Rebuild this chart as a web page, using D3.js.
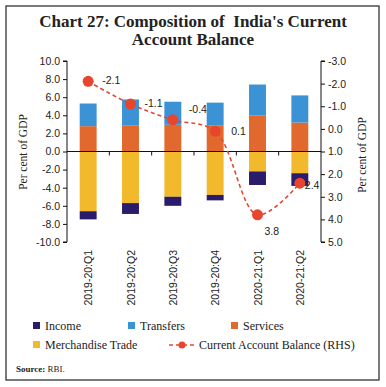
<!DOCTYPE html>
<html>
<head>
<meta charset="utf-8">
<title>Chart 27</title>
<script src="https://d3js.org/d3.v7.min.js"></script>
<style>
  body { margin: 0; background: #fff; }
</style>
</head>
<body>
<div id="chart"></div>
<script>
// data (per cent of GDP)
const quarters = ["2019-20:Q1", "2019-20:Q2", "2019-20:Q3", "2019-20:Q4", "2020-21:Q1", "2020-21:Q2"];
const services = [2.8, 2.9, 2.95, 2.9, 4.0, 3.2];
const transfers = [2.5, 2.85, 2.55, 2.5, 3.4, 3.0];
const merchandise = [-6.6, -5.7, -5.0, -4.8, -2.2, -2.4];
const income = [-0.9, -1.2, -1.0, -0.6, -1.5, -1.4];
const cab = [-2.1, -1.1, -0.4, 0.1, 3.8, 2.4];
const leftTicks = [10, 8, 6, 4, 2, 0, -2, -4, -6, -8, -10];
const rightTicks = [-3, -2, -1, 0, 1, 2, 3, 4, 5];

const W = 386, H = 387;
const colors = {income: "#2b1b6b", transfers: "#3b93d6", services: "#e1692d", merch: "#f2b92d", cab: "#e8452f"};
// hyphen instead of the unicode minus that d3.format gives
const fmt = d => d3.format(".1f")(d).replace("\u2212", "-");

const svg = d3.select("#chart").append("svg")
    .attr("width", W).attr("height", H);

svg.append("rect")
    .attr("x", 6).attr("y", 6).attr("width", 373).attr("height", 374)
    .attr("fill", "none").attr("stroke", "#333").attr("stroke-width", 1.3);

// title
const title = svg.append("text")
    .attr("text-anchor", "middle")
    .attr("font-family", "Liberation Serif, serif")
    .attr("font-weight", "bold")
    .attr("font-size", "17px")
    .attr("fill", "#222")
    .style("white-space", "pre");
title.append("tspan").attr("x", 193).attr("y", 27).text("Chart 27: Composition of  India's Current");
title.append("tspan").attr("x", 193).attr("y", 45).text("Account Balance");

const pL = 67, pR = 321, pT = 61, pB = 242;

const x = d3.scaleBand().domain(quarters).range([pL, pR]).paddingInner(0.6).paddingOuter(0.3);
const y = d3.scaleLinear().domain([-10, 10]).range([pB, pT]);
const y2 = d3.scaleLinear().domain([5, -3]).range([pB, pT]);

// stacked bars
const g = svg.append("g");
function addBars(base, vals, color) {
  g.selectAll(null).data(quarters).enter().append("rect")
      .attr("x", d => x(d))
      .attr("width", x.bandwidth())
      .attr("y", (d, i) => y(Math.max(base[i], base[i] + vals[i])))
      .attr("height", (d, i) => Math.abs(y(base[i]) - y(base[i] + vals[i])))
      .attr("fill", color);
}
const zeros = quarters.map(() => 0);
addBars(zeros, services, colors.services);
addBars(services, transfers, colors.transfers);
addBars(zeros, merchandise, colors.merch);
addBars(merchandise, income, colors.income);

// zero line with category ticks
svg.append("line")
    .attr("x1", pL).attr("x2", pR).attr("y1", y(0)).attr("y2", y(0))
    .attr("stroke", "#111").attr("stroke-width", 1);
const step = x.step();
svg.selectAll(null).data(d3.range(1, quarters.length)).enter().append("line")
    .attr("x1", i => pL + i * step)
    .attr("x2", i => pL + i * step)
    .attr("y1", y(0)).attr("y2", y(0) + 4)
    .attr("stroke", "#111");

// axes
const yAxis = d3.axisLeft(y).tickValues(leftTicks).tickFormat(fmt).tickSize(4);
const y2Axis = d3.axisRight(y2).tickValues(rightTicks).tickFormat(fmt).tickSize(4);

function styleAxis(sel) {
  sel.selectAll("path, line").attr("stroke", "#111");
  sel.selectAll("text")
      .attr("font-family", "Liberation Sans, Arial, sans-serif")
      .attr("font-size", "10.5px")
      .attr("fill", "#222");
}
svg.append("g").attr("transform", `translate(${pL},0)`).call(yAxis).call(styleAxis)
   .call(s => s.select(".domain").attr("d", `M-4,${pT}H0V${pB}H-4`));
svg.append("g").attr("transform", `translate(${pR},0)`).call(y2Axis).call(styleAxis)
   .call(s => s.select(".domain").attr("d", `M4,${pT}H0V${pB}H4`));

// axis titles
svg.append("text")
    .attr("transform", `translate(27,152) rotate(-90)`)
    .attr("text-anchor", "middle")
    .attr("font-family", "Liberation Serif, serif")
    .attr("font-size", "11.5px")
    .attr("fill", "#222")
    .text("Per cent of GDP");
svg.append("text")
    .attr("transform", `translate(366,155) rotate(-90)`)
    .attr("text-anchor", "middle")
    .attr("font-family", "Liberation Serif, serif")
    .attr("font-size", "11.5px")
    .attr("fill", "#222")
    .text("Per cent of GDP");

// category labels
svg.selectAll(null).data(quarters).enter().append("text")
    .attr("transform", d => `translate(${x(d) + x.bandwidth() / 2 + 4},250) rotate(-90)`)
    .attr("text-anchor", "end")
    .attr("font-family", "Liberation Sans, Arial, sans-serif")
    .attr("font-size", "10.5px")
    .attr("fill", "#222")
    .text(d => d);

// current account balance line
const line = d3.line()
    .x((d, i) => x(quarters[i]) + x.bandwidth() / 2)
    .y(d => y2(d))
    .curve(d3.curveCatmullRom.alpha(0.5));
svg.append("path")
    .datum(cab)
    .attr("d", line)
    .attr("fill", "none")
    .attr("stroke", colors.cab)
    .attr("stroke-width", 1.6)
    .attr("stroke-dasharray", "4,3");
svg.selectAll(null).data(cab).enter().append("circle")
    .attr("cx", (d, i) => x(quarters[i]) + x.bandwidth() / 2)
    .attr("cy", d => y2(d))
    .attr("r", 5.5)
    .attr("fill", colors.cab);

// point labels: offsets relative to the point
const labelOff = [[14, 3], [14, 3], [16, -7], [16, 4], [7, 20], [5, 6]];
svg.selectAll(null).data(cab).enter().append("text")
    .attr("x", (d, i) => x(quarters[i]) + x.bandwidth() / 2 + labelOff[i][0])
    .attr("y", (d, i) => y2(d) + labelOff[i][1])
    .attr("font-family", "Liberation Sans, Arial, sans-serif")
    .attr("font-size", "10.5px")
    .attr("fill", "#222")
    .text(fmt);

// legend
const legend = [
  {name: "Income", color: colors.income, x: 33, y: 326},
  {name: "Transfers", color: colors.transfers, x: 128, y: 326},
  {name: "Services", color: colors.services, x: 231, y: 326},
  {name: "Merchandise Trade", color: colors.merch, x: 33, y: 345}
];
legend.forEach(l => {
  svg.append("rect").attr("x", l.x).attr("y", l.y - 4).attr("width", 7).attr("height", 7).attr("fill", l.color);
  svg.append("text").attr("x", l.x + 12).attr("y", l.y + 4)
      .attr("font-family", "Liberation Serif, serif").attr("font-size", "12px").attr("fill", "#222")
      .text(l.name);
});
svg.append("line").attr("x1", 169).attr("x2", 195).attr("y1", 345).attr("y2", 345)
    .attr("stroke", colors.cab).attr("stroke-width", 1.6).attr("stroke-dasharray", "4,3");
svg.append("circle").attr("cx", 182).attr("cy", 345).attr("r", 3.5).attr("fill", colors.cab);
svg.append("text").attr("x", 199).attr("y", 349)
    .attr("font-family", "Liberation Serif, serif").attr("font-size", "12px").attr("fill", "#222")
    .text("Current Account Balance (RHS)");

// source
const src = svg.append("text").attr("x", 16).attr("y", 372)
    .attr("font-family", "Liberation Serif, serif").attr("font-size", "9px").attr("fill", "#222");
src.append("tspan").attr("font-weight", "bold").text("Source: ");
src.append("tspan").text("RBI.");
</script>
</body>
</html>
